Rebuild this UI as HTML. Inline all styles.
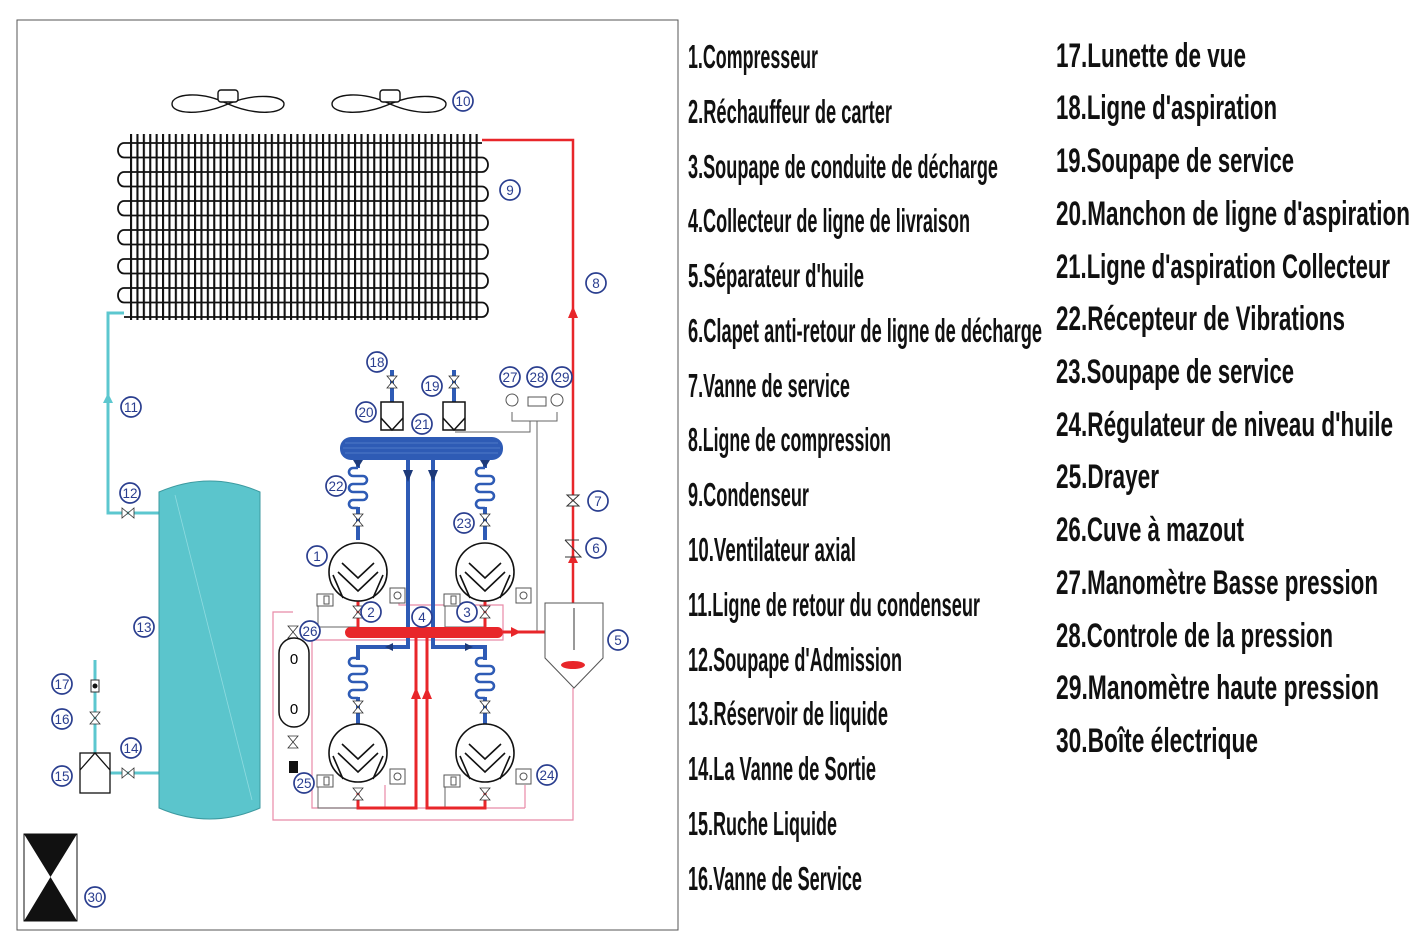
<!DOCTYPE html>
<html><head><meta charset="utf-8"><style>
html,body{margin:0;padding:0;background:#fff;}
svg{display:block;}
.t{font-family:"Liberation Sans Narrow","Liberation Sans",sans-serif;font-weight:bold;fill:#111;}
.l text{font-family:"Liberation Sans",sans-serif;font-size:13.5px;fill:#2a3e8f;text-anchor:middle;}
.l circle{fill:#fff;stroke:#2a3e8f;stroke-width:1.7;}
.coil{stroke:#2e5bb5;stroke-width:2.6;fill:none;}
</style></head><body>
<svg width="1412" height="945" viewBox="0 0 1412 945" xmlns="http://www.w3.org/2000/svg">
<defs>
<pattern id="fins" x="130" y="0" width="6.4" height="10" patternUnits="userSpaceOnUse">
<rect x="0" y="0" width="2.1" height="10" fill="#111"/>
</pattern>
</defs>
<rect x="17" y="20" width="661" height="910" fill="#fff" stroke="#555" stroke-width="1"/>

<!-- fans -->
<g fill="none" stroke="#111" stroke-width="1.4">
<path d="M228 104 C200 90 172 94 172 104 C172 114 200 116 228 104 C256 92 284 96 284 104 C284 114 256 116 228 104Z"/>
<rect x="218" y="90" width="20" height="12" rx="3" fill="#fff"/>
<path d="M390 104 C362 90 332 94 332 104 C332 114 362 116 390 104 C418 92 446 96 446 104 C446 114 418 116 390 104Z"/>
<rect x="380" y="90" width="20" height="12" rx="3" fill="#fff"/>
</g>

<!-- condenser -->
<rect x="130" y="134" width="352" height="186" fill="url(#fins)"/>
<g stroke="#111" stroke-width="1.8" fill="none">
<path d="M124 143 H482 M124 157.5 H482 M124 172 H482 M124 186.5 H482 M124 201 H482 M124 215.5 H482 M124 230 H482 M124 244.5 H482 M124 259 H482 M124 273.5 H482 M124 288 H482 M124 302.5 H482 M124 317 H482"/>
<path d="M124 143 a6 7.25 0 0 0 0 14.5 M124 172 a6 7.25 0 0 0 0 14.5 M124 201 a6 7.25 0 0 0 0 14.5 M124 230 a6 7.25 0 0 0 0 14.5 M124 259 a6 7.25 0 0 0 0 14.5 M124 288 a6 7.25 0 0 0 0 14.5"/>
<path d="M482 157.5 a6 7.25 0 0 1 0 14.5 M482 186.5 a6 7.25 0 0 1 0 14.5 M482 215.5 a6 7.25 0 0 1 0 14.5 M482 244.5 a6 7.25 0 0 1 0 14.5 M482 273.5 a6 7.25 0 0 1 0 14.5 M482 302.5 a6 7.25 0 0 1 0 14.5"/>
</g>

<!-- red discharge line -->
<path d="M482 140 H573 V603" stroke="#e8262a" stroke-width="2.5" fill="none"/>
<polygon points="573,306 568,318 578,318" fill="#e8262a"/>
<polygon points="573,553 568,563 578,563" fill="#e8262a"/>
<g stroke="#333" stroke-width="1" fill="#fff">
<polygon points="567,495 579,495 567,506 579,506"/>
<path d="M565 540 H579 M565 557 H581 L565 540" fill="none"/>
</g>

<!-- cyan liquid line -->
<g stroke="#5cc7cf" stroke-width="3" fill="none">
<path d="M124 313 H108 V513 H160"/>
<path d="M160 773 H110"/>
<path d="M95 753 V660"/>
</g>
<polygon points="108,393 103,403 113,403" fill="#5cc7cf"/>
<g stroke="#333" stroke-width="0.8" fill="#fff">
<polygon points="122,508 122,518 134,508 134,518"/>
<polygon points="122,768 122,778 134,768 134,778"/>
<polygon points="90,712 100,712 90,724 100,724"/>
</g>
<rect x="91" y="680" width="8" height="12" fill="#fff" stroke="#333"/>
<circle cx="95" cy="686" r="2.5" fill="#111"/>

<!-- reservoir -->
<path d="M159 492 Q210 470 260 492 V808 Q210 830 159 808Z" fill="#5bc5cc" stroke="#3d9aa0" stroke-width="1"/>
<path d="M175 495 L252 800" stroke="#8fdbe0" stroke-width="0.8"/>
<!-- box 15 -->
<rect x="80" y="753" width="30" height="40" fill="#fff" stroke="#111" stroke-width="1.3"/>
<path d="M80 770 L95 753 L110 770" fill="none" stroke="#111" stroke-width="1.3"/>
<!-- box 30 -->
<rect x="24" y="834" width="53" height="87" fill="#fff" stroke="#111"/>
<polygon points="24,834 77,834 50.5,877 77,921 24,921 50.5,877" fill="#111"/>

<!-- pink control lines -->
<g stroke="#e88aa8" stroke-width="1.2" fill="none">
<path d="M293 612 H273 V820 H573 V688"/>
<path d="M312 640 V808 H525"/>
<path d="M312 640 H503 V605 H399 V597"/>
<path d="M385 808 V785 M525 808 V785"/>
</g>
<g stroke="#666" stroke-width="1" fill="none">
<path d="M318 606 V627 H357"/>
<path d="M445 606 V627 H484"/>
<path d="M318 787 V808 H357"/>
<path d="M445 787 V808 H484"/>
<path d="M512 412 V421 H557 V412 M537 421 V632 H545"/>
<path d="M455 432 H530 V421"/>
</g>

<!-- suction header -->
<g stroke="#2e5bb5" stroke-width="4" fill="none">
<path d="M392 370 V402 M454 370 V402"/>
<path d="M408 460 V647 H358 V660"/>
<path d="M433 460 V647 H485 V660"/>
<path d="M358 697 V745 M485 697 V745"/>
<path d="M358 460 V468 M485 460 V468 M358 507 V540 M485 507 V540"/>
</g>
<rect x="340" y="437" width="163" height="23" rx="11" fill="#2e5bb5"/>
<g stroke="#6f95d8" stroke-width="0.6"><path d="M345 443 H498 M343 448 H500 M345 453 H498"/></g>
<g fill="#1d3a7a">
<polygon points="403,470 413,470 408,482"/><polygon points="428,470 438,470 433,482"/>
<polygon points="353,460 363,460 358,468"/><polygon points="480,460 490,460 485,468"/>
<polygon points="385,647 393,643 393,651"/><polygon points="465,643 465,651 473,647"/>
</g>
<!-- coils -->
<path class="coil" d="M358 468 H353 a4 4 0 0 0 0 8 H363 a4 4 0 0 1 0 8 H353 a4 4 0 0 0 0 8 H363 a4 4 0 0 1 0 8 H353 a4 4 0 0 0 0 8 H358"/>
<path class="coil" d="M485 468 H480 a4 4 0 0 0 0 8 H490 a4 4 0 0 1 0 8 H480 a4 4 0 0 0 0 8 H490 a4 4 0 0 1 0 8 H480 a4 4 0 0 0 0 8 H485"/>
<path class="coil" d="M358 658 H353 a4 4 0 0 0 0 8 H363 a4 4 0 0 1 0 8 H353 a4 4 0 0 0 0 8 H363 a4 4 0 0 1 0 8 H353 a4 4 0 0 0 0 8 H358"/>
<path class="coil" d="M485 658 H480 a4 4 0 0 0 0 8 H490 a4 4 0 0 1 0 8 H480 a4 4 0 0 0 0 8 H490 a4 4 0 0 1 0 8 H480 a4 4 0 0 0 0 8 H485"/>
<!-- vessels 20/19 -->
<g stroke="#111" stroke-width="1.5" fill="#fff">
<rect x="381" y="402" width="22" height="28"/><path d="M381 418 L392 430 L403 418" fill="none"/>
<rect x="443" y="402" width="22" height="28"/><path d="M443 418 L454 430 L465 418" fill="none"/>
</g>

<!-- red discharge header -->
<g stroke="#e8262a" stroke-width="3" fill="none">
<path d="M416 637 V808 H358 V790"/>
<path d="M427 637 V808 H485 V790"/>
<path d="M358 601 V627 M485 601 V627"/>
<path d="M503 632 H545"/>
</g>
<rect x="345" y="627" width="158" height="11" rx="5.5" fill="#e8262a"/>
<polygon points="416,687 411,699 421,699" fill="#e8262a"/>
<polygon points="427,687 422,699 432,699" fill="#e8262a"/>
<polygon points="511,627 521,632 511,637" fill="#e8262a"/>

<!-- separator -->
<path d="M545 603 H603 V658 L574 688 L545 658Z" fill="#fff" stroke="#555" stroke-width="1"/>
<path d="M574 608 V650" stroke="#333"/>
<ellipse cx="573" cy="665" rx="12" ry="4" fill="#e8262a"/>

<!-- valves -->
<g stroke="#333" stroke-width="0.8" fill="#fff">
<polygon points="353,514 363,514 353,526 363,526"/>
<polygon points="480,514 490,514 480,526 490,526"/>
<polygon points="353,606 363,606 353,618 363,618"/>
<polygon points="480,606 490,606 480,618 490,618"/>
<polygon points="353,701 363,701 353,713 363,713"/>
<polygon points="480,701 490,701 480,713 490,713"/>
<polygon points="353,788 363,788 353,800 363,800"/>
<polygon points="480,788 490,788 480,800 490,800"/>
<polygon points="387,376 397,376 387,388 397,388"/>
<polygon points="449,376 459,376 449,388 459,388"/>
<polygon points="288,626 298,626 288,638 298,638"/>
<polygon points="288,736 298,736 288,748 298,748"/>
</g>

<!-- compressors -->
<g stroke="#111" stroke-width="1.6" fill="#fff">
<circle cx="358" cy="572" r="29"/><circle cx="485" cy="572" r="29"/>
<circle cx="358" cy="753" r="29"/><circle cx="485" cy="753" r="29"/>
</g>
<g stroke="#111" stroke-width="1.6" fill="none">
<path d="M342 563 L358 578 L374 563 M338 572 L358 591 L378 572 M333 575 L343 598 M383 575 L373 598"/>
<path d="M469 563 L485 578 L501 563 M465 572 L485 591 L505 572 M460 575 L470 598 M510 575 L500 598"/>
<path d="M342 744 L358 759 L374 744 M338 753 L358 772 L378 753 M333 756 L343 779 M383 756 L373 779"/>
<path d="M469 744 L485 759 L501 744 M465 753 L485 772 L505 753 M460 756 L470 779 M510 756 L500 779"/>
</g>
<!-- small boxes -->
<g stroke="#555" stroke-width="1" fill="#fff">
<rect x="317" y="594" width="16" height="12"/><rect x="324" y="596" width="5" height="8"/>
<rect x="444" y="594" width="16" height="12"/><rect x="451" y="596" width="5" height="8"/>
<rect x="317" y="775" width="16" height="12"/><rect x="324" y="777" width="5" height="8"/>
<rect x="444" y="775" width="16" height="12"/><rect x="451" y="777" width="5" height="8"/>
<rect x="390" y="588" width="15" height="15"/><circle cx="397.5" cy="595.5" r="3.5"/>
<rect x="516" y="588" width="15" height="15"/><circle cx="523.5" cy="595.5" r="3.5"/>
<rect x="390" y="769" width="15" height="15"/><circle cx="397.5" cy="776.5" r="3.5"/>
<rect x="516" y="769" width="15" height="15"/><circle cx="523.5" cy="776.5" r="3.5"/>
<circle cx="512" cy="400" r="6"/><circle cx="557" cy="400" r="6"/>
<rect x="528" y="397" width="18" height="9"/>
</g>
<!-- oil tank -->
<rect x="279" y="638" width="30" height="89" rx="15" fill="#fff" stroke="#111" stroke-width="1.5"/>
<text x="294" y="664" font-family="Liberation Sans" font-size="15" text-anchor="middle">0</text>
<text x="294" y="714" font-family="Liberation Sans" font-size="15" text-anchor="middle">0</text>
<rect x="289" y="761" width="9" height="12" fill="#111"/>

<!-- labels -->
<g class="l">
<circle cx="463" cy="101" r="10"/><text x="463" y="106">10</text>
<circle cx="510" cy="190" r="10"/><text x="510" y="195">9</text>
<circle cx="596" cy="283" r="10"/><text x="596" y="288">8</text>
<circle cx="131" cy="407" r="10"/><text x="131" y="412">11</text>
<circle cx="130" cy="493" r="10"/><text x="130" y="498">12</text>
<circle cx="144" cy="627" r="10"/><text x="144" y="632">13</text>
<circle cx="131" cy="748" r="10"/><text x="131" y="753">14</text>
<circle cx="62" cy="776" r="10"/><text x="62" y="781">15</text>
<circle cx="62" cy="719" r="10"/><text x="62" y="724">16</text>
<circle cx="62" cy="684" r="10"/><text x="62" y="689">17</text>
<circle cx="95" cy="897" r="10"/><text x="95" y="902">30</text>
<circle cx="377" cy="362" r="10"/><text x="377" y="367">18</text>
<circle cx="432" cy="386" r="10"/><text x="432" y="391">19</text>
<circle cx="366" cy="412" r="10"/><text x="366" y="417">20</text>
<circle cx="422" cy="424" r="10"/><text x="422" y="429">21</text>
<circle cx="510" cy="377" r="10"/><text x="510" y="382">27</text>
<circle cx="537" cy="377" r="10"/><text x="537" y="382">28</text>
<circle cx="562" cy="377" r="10"/><text x="562" y="382">29</text>
<circle cx="336" cy="486" r="10"/><text x="336" y="491">22</text>
<circle cx="464" cy="523" r="10"/><text x="464" y="528">23</text>
<circle cx="317" cy="556" r="10"/><text x="317" y="561">1</text>
<circle cx="371" cy="612" r="10"/><text x="371" y="617">2</text>
<circle cx="467" cy="612" r="10"/><text x="467" y="617">3</text>
<circle cx="422" cy="617" r="10"/><text x="422" y="622">4</text>
<circle cx="310" cy="631" r="10"/><text x="310" y="636">26</text>
<circle cx="618" cy="640" r="10"/><text x="618" y="645">5</text>
<circle cx="598" cy="501" r="10"/><text x="598" y="506">7</text>
<circle cx="596" cy="548" r="10"/><text x="596" y="553">6</text>
<circle cx="547" cy="775" r="10"/><text x="547" y="780">24</text>
<circle cx="304" cy="783" r="10"/><text x="304" y="788">25</text>
</g>

<!-- legend -->
<g class="t" font-size="33">
<text x="688" y="68" textLength="130" lengthAdjust="spacingAndGlyphs">1.Compresseur</text>
<text x="688" y="123" textLength="204" lengthAdjust="spacingAndGlyphs">2.Réchauffeur de carter</text>
<text x="688" y="178" textLength="310" lengthAdjust="spacingAndGlyphs">3.Soupape de conduite de décharge</text>
<text x="688" y="232" textLength="282" lengthAdjust="spacingAndGlyphs">4.Collecteur de ligne de livraison</text>
<text x="688" y="287" textLength="176" lengthAdjust="spacingAndGlyphs">5.Séparateur d'huile</text>
<text x="688" y="342" textLength="354" lengthAdjust="spacingAndGlyphs">6.Clapet anti-retour de ligne de décharge</text>
<text x="688" y="397" textLength="162" lengthAdjust="spacingAndGlyphs">7.Vanne de service</text>
<text x="688" y="451" textLength="203" lengthAdjust="spacingAndGlyphs">8.Ligne de compression</text>
<text x="688" y="506" textLength="121" lengthAdjust="spacingAndGlyphs">9.Condenseur</text>
<text x="688" y="561" textLength="168" lengthAdjust="spacingAndGlyphs">10.Ventilateur axial</text>
<text x="688" y="616" textLength="292" lengthAdjust="spacingAndGlyphs">11.Ligne de retour du condenseur</text>
<text x="688" y="671" textLength="214" lengthAdjust="spacingAndGlyphs">12.Soupape d'Admission</text>
<text x="688" y="725" textLength="200" lengthAdjust="spacingAndGlyphs">13.Réservoir de liquide</text>
<text x="688" y="780" textLength="188" lengthAdjust="spacingAndGlyphs">14.La Vanne de Sortie</text>
<text x="688" y="835" textLength="149" lengthAdjust="spacingAndGlyphs">15.Ruche Liquide</text>
<text x="688" y="890" textLength="174" lengthAdjust="spacingAndGlyphs">16.Vanne de Service</text>
</g>
<g class="t" font-size="34">
<text x="1056" y="67" textLength="190" lengthAdjust="spacingAndGlyphs">17.Lunette de vue</text>
<text x="1056" y="119" textLength="221" lengthAdjust="spacingAndGlyphs">18.Ligne d'aspiration</text>
<text x="1056" y="172" textLength="238" lengthAdjust="spacingAndGlyphs">19.Soupape de service</text>
<text x="1056" y="225" textLength="354" lengthAdjust="spacingAndGlyphs">20.Manchon de ligne d'aspiration</text>
<text x="1056" y="278" textLength="334" lengthAdjust="spacingAndGlyphs">21.Ligne d'aspiration Collecteur</text>
<text x="1056" y="330" textLength="289" lengthAdjust="spacingAndGlyphs">22.Récepteur de Vibrations</text>
<text x="1056" y="383" textLength="238" lengthAdjust="spacingAndGlyphs">23.Soupape de service</text>
<text x="1056" y="436" textLength="337" lengthAdjust="spacingAndGlyphs">24.Régulateur de niveau d'huile</text>
<text x="1056" y="488" textLength="103" lengthAdjust="spacingAndGlyphs">25.Drayer</text>
<text x="1056" y="541" textLength="188" lengthAdjust="spacingAndGlyphs">26.Cuve à mazout</text>
<text x="1056" y="594" textLength="322" lengthAdjust="spacingAndGlyphs">27.Manomètre Basse pression</text>
<text x="1056" y="647" textLength="277" lengthAdjust="spacingAndGlyphs">28.Controle de la pression</text>
<text x="1056" y="699" textLength="323" lengthAdjust="spacingAndGlyphs">29.Manomètre haute pression</text>
<text x="1056" y="752" textLength="202" lengthAdjust="spacingAndGlyphs">30.Boîte électrique</text>
</g>
</svg>
</body></html>
